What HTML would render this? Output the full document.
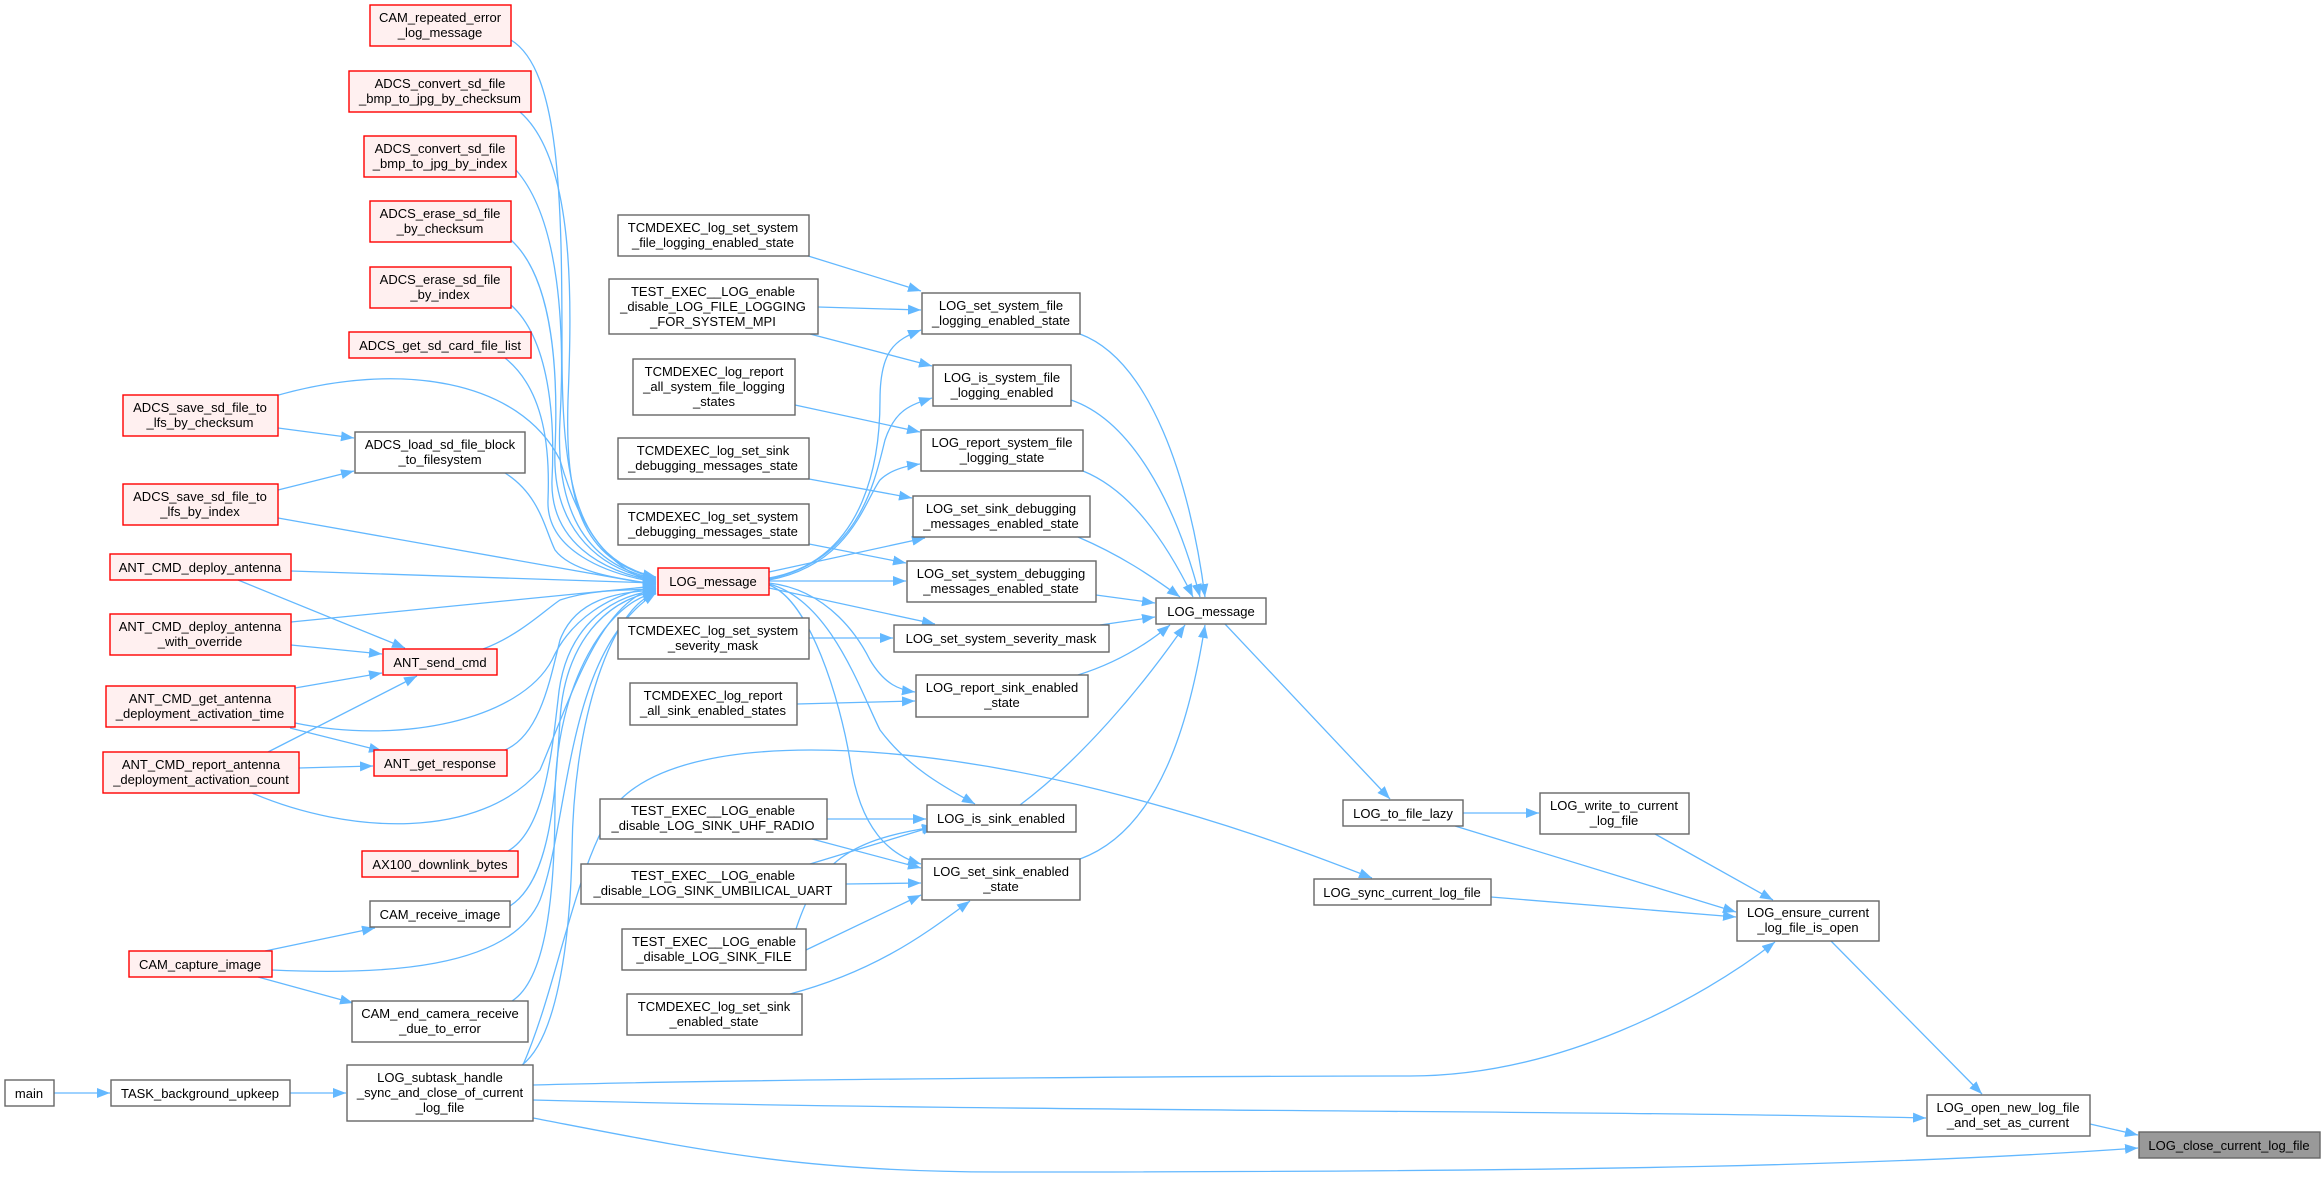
<!DOCTYPE html>
<html><head><meta charset="utf-8"><style>
html,body{margin:0;padding:0;background:#fff;}
svg{display:block;}
text{font-family:"Liberation Sans",Arial,sans-serif;font-size:13px;fill:#000;text-anchor:middle;}
.g{fill:#fff;stroke:#666;stroke-width:1.4;}
.r{fill:#fff0f0;stroke:#ff0000;stroke-width:1.4;}
.k{fill:#999;stroke:#666;stroke-width:1.4;}
path.e{fill:none;stroke:#63b8ff;stroke-width:1.3;}
</style></head><body>
<svg width="2324" height="1179" viewBox="0 0 2324 1179" xmlns="http://www.w3.org/2000/svg">
<defs><marker id="a" markerUnits="userSpaceOnUse" markerWidth="14" markerHeight="11" refX="13" refY="5" orient="auto"><path d="M0,0 L13,5 L0,10 z" fill="#63b8ff"/></marker></defs>
<g marker-end="url(#a)">
<!-- into red LOG_message -->
<path class="e" d="M511,40 C560,70 562,200 562,350 C562,480 575,560 656,577"/>
<path class="e" d="M520,112 C575,160 572,300 568,400 C565,500 580,560 656,578"/>
<path class="e" d="M516,170 C560,220 565,330 560,420 C555,510 585,565 656,579"/>
<path class="e" d="M511,240 C555,280 558,380 555,450 C552,520 590,568 656,580"/>
<path class="e" d="M511,305 C550,340 555,420 552,480 C550,540 600,572 656,581"/>
<path class="e" d="M505,358 C545,390 550,450 548,500 C546,550 605,574 656,582"/>
<path class="e" d="M275,396 C400,360 520,380 560,460 C580,530 610,570 656,583"/>
<path class="e" d="M505,473 C540,495 545,530 555,550 C570,570 610,578 656,584"/>
<path class="e" d="M278,518 L656,585"/>
<path class="e" d="M291,571 L656,583"/>
<path class="e" d="M291,622 L656,586"/>
<path class="e" d="M295,723 C400,745 520,720 552,660 C570,620 610,593 656,587"/>
<path class="e" d="M252,793 C350,835 480,840 540,770 C570,700 600,600 656,588"/>
<path class="e" d="M483,649 C520,635 545,610 560,600 C590,590 620,590 656,589"/>
<path class="e" d="M505,750 C540,735 550,680 560,640 C575,600 615,592 656,590"/>
<path class="e" d="M508,851 C545,830 552,750 558,700 C565,620 620,593 656,591"/>
<path class="e" d="M510,906 C550,880 555,800 560,720 C565,630 620,595 656,592"/>
<path class="e" d="M272,970 C380,975 510,970 540,900 C570,820 565,650 656,593"/>
<path class="e" d="M512,1001 C545,980 555,900 555,800 C555,680 610,600 656,593"/>
<path class="e" d="M522,1065 C555,1040 570,950 572,850 C574,700 620,600 656,594"/>
<!-- out of red LOG_message -->
<path class="e" d="M769,578 C870,560 880,450 880,400 C880,350 895,340 921,330"/>
<path class="e" d="M769,579 C860,560 875,480 885,440 C895,410 910,405 932,398"/>
<path class="e" d="M769,580 C850,565 865,500 880,480 C890,470 905,466 920,464"/>
<path class="e" d="M769,572 L925,538"/>
<path class="e" d="M769,581 L906,581"/>
<path class="e" d="M769,588 L935,624"/>
<path class="e" d="M769,583 C830,590 860,640 870,660 C885,685 900,690 915,692"/>
<path class="e" d="M769,584 C830,600 860,690 880,730 C910,770 950,790 975,804"/>
<path class="e" d="M769,585 C810,600 840,700 850,760 C860,830 890,855 921,864"/>
<!-- TC edges -->
<path class="e" d="M805,255 L921,291"/>
<path class="e" d="M818,307 L921,310"/>
<path class="e" d="M810,334 L932,366"/>
<path class="e" d="M795,405 L920,432"/>
<path class="e" d="M809,479 L912,498"/>
<path class="e" d="M809,544 L906,563"/>
<path class="e" d="M809,638 L893,638"/>
<path class="e" d="M797,704 L915,701"/>
<path class="e" d="M827,819 L926,819"/>
<path class="e" d="M812,839 L921,868"/>
<path class="e" d="M846,884 L921,883"/>
<path class="e" d="M810,864 L935,826"/>
<path class="e" d="M795,932 C815,870 840,840 935,827"/>
<path class="e" d="M806,950 L921,895"/>
<path class="e" d="M790,994 C880,970 930,930 970,901"/>
<!-- into right LOG_message -->
<path class="e" d="M1080,334 C1150,360 1190,480 1205,597"/>
<path class="e" d="M1071,400 C1130,420 1175,500 1200,597"/>
<path class="e" d="M1083,471 C1130,490 1165,540 1193,597"/>
<path class="e" d="M1078,537 C1120,555 1150,575 1180,597"/>
<path class="e" d="M1096,595 L1155,603"/>
<path class="e" d="M1100,625 L1155,617"/>
<path class="e" d="M1078,675 C1110,665 1140,650 1170,625"/>
<path class="e" d="M1020,805 C1080,760 1140,690 1185,625"/>
<path class="e" d="M1080,859 C1160,830 1190,720 1205,625"/>
<!-- right side -->
<path class="e" d="M1225,624 L1390,799"/>
<path class="e" d="M1463,813 L1539,813"/>
<path class="e" d="M1455,826 L1736,912"/>
<path class="e" d="M1655,834 L1773,900"/>
<path class="e" d="M1491,897 L1736,917"/>
<path class="e" d="M533,1085 C800,1078 1300,1076 1410,1076 C1560,1076 1700,1000 1775,942"/>
<path class="e" d="M533,1100 C1000,1112 1600,1110 1926,1118"/>
<path class="e" d="M533,1118 C700,1150 800,1172 1000,1172 C1600,1172 1900,1165 2138,1148"/>
<path class="e" d="M1831,941 L1982,1094"/>
<path class="e" d="M2090,1124 L2138,1135"/>
<path class="e" d="M523,1065 C560,980 575,860 620,800 C690,730 900,740 1100,790 C1220,820 1300,850 1372,878"/>
<path class="e" d="M54,1093 L110,1093"/>
<path class="e" d="M290,1093 L346,1093"/>
<!-- left small -->
<path class="e" d="M278,428 L354,438"/>
<path class="e" d="M278,490 L354,471"/>
<path class="e" d="M238,580 L405,648"/>
<path class="e" d="M291,645 L382,654"/>
<path class="e" d="M295,688 L382,673"/>
<path class="e" d="M290,728 L382,751"/>
<path class="e" d="M268,752 L417,676"/>
<path class="e" d="M299,768 L373,766"/>
<path class="e" d="M265,951 L375,928"/>
<path class="e" d="M258,977 L353,1003"/>
</g>

<!-- nodes -->
<rect class="r" x="370" y="5" width="141" height="41"/><text x="440" y="22">CAM_repeated_error</text><text x="440" y="37">_log_message</text>
<rect class="r" x="349" y="71" width="182" height="41"/><text x="440" y="88">ADCS_convert_sd_file</text><text x="440" y="103">_bmp_to_jpg_by_checksum</text>
<rect class="r" x="364" y="136" width="152" height="41"/><text x="440" y="153">ADCS_convert_sd_file</text><text x="440" y="168">_bmp_to_jpg_by_index</text>
<rect class="r" x="370" y="201" width="141" height="41"/><text x="440" y="218">ADCS_erase_sd_file</text><text x="440" y="233">_by_checksum</text>
<rect class="r" x="370" y="267" width="141" height="41"/><text x="440" y="284">ADCS_erase_sd_file</text><text x="440" y="299">_by_index</text>
<rect class="r" x="349" y="332" width="182" height="26"/><text x="440" y="350">ADCS_get_sd_card_file_list</text>
<rect class="r" x="123" y="395" width="155" height="41"/><text x="200" y="412">ADCS_save_sd_file_to</text><text x="200" y="427">_lfs_by_checksum</text>
<rect class="g" x="355" y="432" width="170" height="41"/><text x="440" y="449">ADCS_load_sd_file_block</text><text x="440" y="464">_to_filesystem</text>
<rect class="r" x="123" y="484" width="155" height="41"/><text x="200" y="501">ADCS_save_sd_file_to</text><text x="200" y="516">_lfs_by_index</text>
<rect class="r" x="110" y="554" width="181" height="26"/><text x="200" y="572">ANT_CMD_deploy_antenna</text>
<rect class="r" x="110" y="614" width="181" height="41"/><text x="200" y="631">ANT_CMD_deploy_antenna</text><text x="200" y="646">_with_override</text>
<rect class="r" x="383" y="649" width="114" height="26"/><text x="440" y="667">ANT_send_cmd</text>
<rect class="r" x="106" y="686" width="189" height="41"/><text x="200" y="703">ANT_CMD_get_antenna</text><text x="200" y="718">_deployment_activation_time</text>
<rect class="r" x="103" y="752" width="196" height="41"/><text x="201" y="769">ANT_CMD_report_antenna</text><text x="201" y="784">_deployment_activation_count</text>
<rect class="r" x="374" y="750" width="133" height="26"/><text x="440" y="768">ANT_get_response</text>
<rect class="r" x="362" y="851" width="156" height="26"/><text x="440" y="869">AX100_downlink_bytes</text>
<rect class="g" x="370" y="901" width="140" height="26"/><text x="440" y="919">CAM_receive_image</text>
<rect class="r" x="129" y="951" width="143" height="26"/><text x="200" y="969">CAM_capture_image</text>
<rect class="g" x="352" y="1001" width="176" height="41"/><text x="440" y="1018">CAM_end_camera_receive</text><text x="440" y="1033">_due_to_error</text>
<rect class="g" x="5" y="1080" width="49" height="26"/><text x="29" y="1098">main</text>
<rect class="g" x="111" y="1080" width="179" height="26"/><text x="200" y="1098">TASK_background_upkeep</text>
<rect class="g" x="347" y="1065" width="186" height="56"/><text x="440" y="1082">LOG_subtask_handle</text><text x="440" y="1097">_sync_and_close_of_current</text><text x="440" y="1112">_log_file</text>
<rect class="r" x="658" y="568" width="111" height="27"/><text x="713" y="586">LOG_message</text>

<rect class="g" x="618" y="215" width="191" height="41"/><text x="713" y="232">TCMDEXEC_log_set_system</text><text x="713" y="247">_file_logging_enabled_state</text>
<rect class="g" x="609" y="279" width="209" height="55"/><text x="713" y="296">TEST_EXEC__LOG_enable</text><text x="713" y="311">_disable_LOG_FILE_LOGGING</text><text x="713" y="326">_FOR_SYSTEM_MPI</text>
<rect class="g" x="633" y="359" width="162" height="56"/><text x="714" y="376">TCMDEXEC_log_report</text><text x="714" y="391">_all_system_file_logging</text><text x="714" y="406">_states</text>
<rect class="g" x="618" y="438" width="191" height="41"/><text x="713" y="455">TCMDEXEC_log_set_sink</text><text x="713" y="470">_debugging_messages_state</text>
<rect class="g" x="618" y="504" width="191" height="41"/><text x="713" y="521">TCMDEXEC_log_set_system</text><text x="713" y="536">_debugging_messages_state</text>
<rect class="g" x="618" y="618" width="191" height="41"/><text x="713" y="635">TCMDEXEC_log_set_system</text><text x="713" y="650">_severity_mask</text>
<rect class="g" x="630" y="683" width="167" height="42"/><text x="713" y="700">TCMDEXEC_log_report</text><text x="713" y="715">_all_sink_enabled_states</text>
<rect class="g" x="600" y="799" width="227" height="40"/><text x="713" y="815">TEST_EXEC__LOG_enable</text><text x="713" y="830">_disable_LOG_SINK_UHF_RADIO</text>
<rect class="g" x="581" y="864" width="265" height="40"/><text x="713" y="880">TEST_EXEC__LOG_enable</text><text x="713" y="895">_disable_LOG_SINK_UMBILICAL_UART</text>
<rect class="g" x="622" y="929" width="184" height="41"/><text x="714" y="946">TEST_EXEC__LOG_enable</text><text x="714" y="961">_disable_LOG_SINK_FILE</text>
<rect class="g" x="627" y="994" width="175" height="41"/><text x="714" y="1011">TCMDEXEC_log_set_sink</text><text x="714" y="1026">_enabled_state</text>

<rect class="g" x="922" y="293" width="158" height="41"/><text x="1001" y="310">LOG_set_system_file</text><text x="1001" y="325">_logging_enabled_state</text>
<rect class="g" x="933" y="365" width="138" height="41"/><text x="1002" y="382">LOG_is_system_file</text><text x="1002" y="397">_logging_enabled</text>
<rect class="g" x="921" y="430" width="162" height="41"/><text x="1002" y="447">LOG_report_system_file</text><text x="1002" y="462">_logging_state</text>
<rect class="g" x="913" y="496" width="177" height="41"/><text x="1001" y="513">LOG_set_sink_debugging</text><text x="1001" y="528">_messages_enabled_state</text>
<rect class="g" x="907" y="561" width="189" height="41"/><text x="1001" y="578">LOG_set_system_debugging</text><text x="1001" y="593">_messages_enabled_state</text>
<rect class="g" x="894" y="625" width="215" height="27"/><text x="1001" y="643">LOG_set_system_severity_mask</text>
<rect class="g" x="916" y="675" width="172" height="42"/><text x="1002" y="692">LOG_report_sink_enabled</text><text x="1002" y="707">_state</text>
<rect class="g" x="927" y="805" width="149" height="27"/><text x="1001" y="823">LOG_is_sink_enabled</text>
<rect class="g" x="922" y="859" width="158" height="41"/><text x="1001" y="876">LOG_set_sink_enabled</text><text x="1001" y="891">_state</text>

<rect class="g" x="1156" y="598" width="110" height="26"/><text x="1211" y="616">LOG_message</text>
<rect class="g" x="1343" y="800" width="120" height="26"/><text x="1403" y="818">LOG_to_file_lazy</text>
<rect class="g" x="1540" y="793" width="149" height="41"/><text x="1614" y="810">LOG_write_to_current</text><text x="1614" y="825">_log_file</text>
<rect class="g" x="1314" y="879" width="177" height="26"/><text x="1402" y="897">LOG_sync_current_log_file</text>
<rect class="g" x="1737" y="901" width="142" height="40"/><text x="1808" y="917">LOG_ensure_current</text><text x="1808" y="932">_log_file_is_open</text>
<rect class="g" x="1927" y="1095" width="163" height="41"/><text x="2008" y="1112">LOG_open_new_log_file</text><text x="2008" y="1127">_and_set_as_current</text>
<rect class="k" x="2139" y="1132" width="181" height="26"/><text x="2229" y="1150">LOG_close_current_log_file</text>
</svg>
</body></html>
